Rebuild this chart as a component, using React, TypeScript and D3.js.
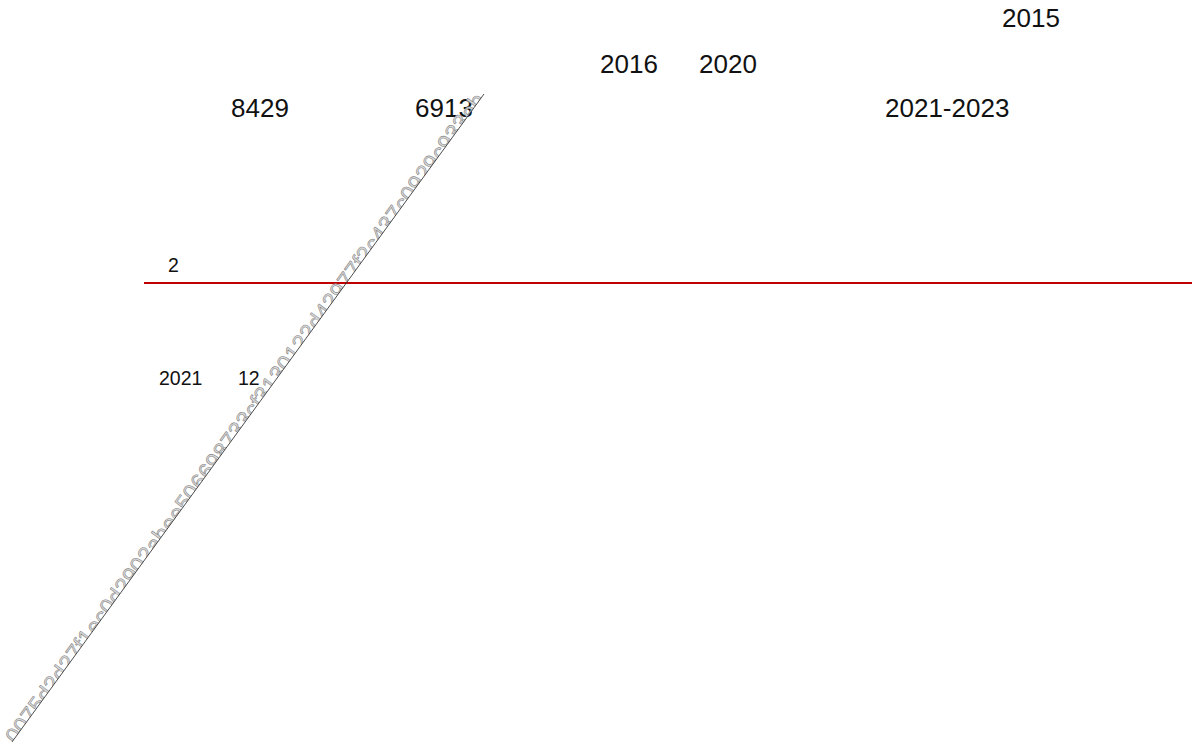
import React, { useEffect, useRef } from 'react';
import * as d3 from 'd3';

// Labels as they appear in the picture (the CJK parts are missing glyphs there)
const headerLabels = ['2015', '2016', '2020', '8429', '6913', '2021-2023'];
const noteLabels = ['2', '2021', '12'];
const watermark = '0075d2d27f1ec0d2902abee506698733cf3130122d42977f2c437c0929c933eb';
const refValue = [2];

const W = 1203;
const H = 744;

// layout of each label, kept apart from the texts
const headerPos = [
  [1002, 27],
  [600, 73],
  [699, 73],
  [231, 117],
  [415, 117],
  [885, 117],
];
const notePos = [
  [168, 272],
  [159, 385],
  [238, 385],
];

export default function App() {
  const svgRef = useRef<SVGSVGElement>(null);

  useEffect(() => {
    if (!svgRef.current) return;
    const svg = d3.select(svgRef.current);
    svg.selectAll('*').remove();

    const font = '"Liberation Sans", Arial, sans-serif';

    // reference line scale
    const y = d3.scaleLinear().domain([0, 4]).range([H - 178, 0]);
    const x = d3.scaleLinear().domain([0, 1]).range([144, 1192]);

    svg.append('g')
      .selectAll('line')
      .data(refValue)
      .enter()
      .append('line')
      .attr('x1', x(0))
      .attr('x2', x(1))
      .attr('y1', d => y(d))
      .attr('y2', d => y(d))
      .attr('stroke', '#c00000')
      .attr('stroke-width', 2);

    svg.append('g')
      .selectAll('text')
      .data(headerLabels)
      .enter()
      .append('text')
      .attr('x', (_, i) => headerPos[i][0])
      .attr('y', (_, i) => headerPos[i][1])
      .attr('font-family', font)
      .attr('font-size', 26)
      .attr('fill', '#111')
      .text(d => d);

    svg.append('g')
      .selectAll('text')
      .data(noteLabels)
      .enter()
      .append('text')
      .attr('x', (_, i) => notePos[i][0])
      .attr('y', (_, i) => notePos[i][1])
      .attr('font-family', font)
      .attr('font-size', 19.5)
      .attr('fill', '#111')
      .text(d => d);

    // diagonal watermark, only its upper half shows
    const x0 = 12, y0 = 742, x1 = 484, y1 = 94;
    const len = Math.hypot(x1 - x0, y1 - y0);
    const angle = (Math.atan2(y1 - y0, x1 - x0) * 180) / Math.PI;

    const defs = svg.append('defs');
    defs.append('clipPath')
      .attr('id', 'wm-clip')
      .append('rect')
      .attr('x', -10)
      .attr('y', -30)
      .attr('width', len + 20)
      .attr('height', 30);

    const wm = svg.append('g')
      .attr('transform', `translate(${x0},${y0}) rotate(${angle})`);

    wm.append('text')
      .attr('clip-path', 'url(#wm-clip)')
      .attr('x', 0)
      .attr('y', 6)
      .attr('font-family', font)
      .attr('font-size', 23)
      .attr('fill', '#dadada')
      .attr('stroke', '#888')
      .attr('stroke-width', 0.6)
      .attr('textLength', len - 4)
      .attr('lengthAdjust', 'spacing')
      .text(watermark);

    wm.append('line')
      .attr('x1', 0)
      .attr('x2', len)
      .attr('y1', 0)
      .attr('y2', 0)
      .attr('stroke', '#333')
      .attr('stroke-width', 0.8);
  }, []);

  return (
    <svg
      ref={svgRef}
      width={W}
      height={H}
      style={{ position: 'fixed', left: 0, top: 0, background: '#fff' }}
    />
  );
}
